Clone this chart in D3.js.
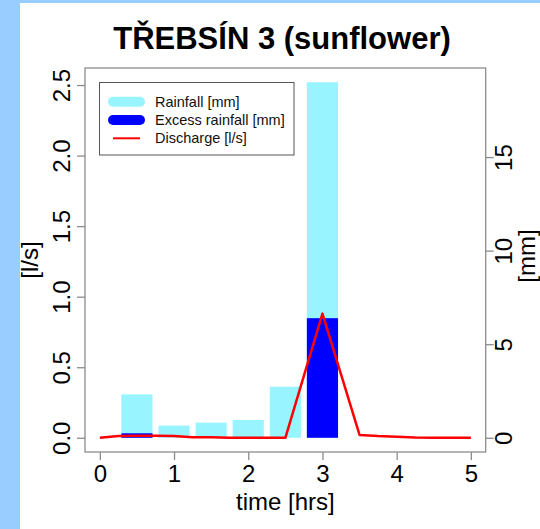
<!DOCTYPE html>
<html>
<head>
<meta charset="utf-8">
<title>TŘEBSÍN 3 (sunflower)</title>
<script src="https://d3js.org/d3.v7.min.js" charset="utf-8"></script>
<style>
  body { margin: 0; background: #99ccff; }
  svg text { font-family: "Liberation Sans", Arial, sans-serif; }
</style>
</head>
<body>
<script>
// rainfall bars (mm), centred on these times (hrs)
var barTimes = [0.5, 1, 1.5, 2, 2.5, 3];
var rainfall = [2.32, 0.65, 0.81, 0.95, 2.73, 19.0];
var excess = [0.24, 0, 0, 0, 0, 6.39];

// discharge (l/s)
var qTimes = [0, 0.25, 0.5, 0.75, 1, 1.25, 1.5, 1.75, 2, 2.25, 2.5, 3, 3.5, 3.75, 4, 4.25, 4.5, 4.75, 5];
var discharge = [0, 0.012, 0.014, 0.015, 0.012, 0.004, 0.003, 0, 0, 0, 0, 0.88, 0.02, 0.012, 0.008, 0.002, 0.001, 0.001, 0.001];

var xTicks = [0, 1, 2, 3, 4, 5];
var qTicks = [0, 0.5, 1, 1.5, 2, 2.5];
var mmTicks = [0, 5, 10, 15];

var legendLabels = ["Rainfall [mm]", "Excess rainfall [mm]", "Discharge [l/s]"];

var W = 540, H = 529;
var box = {left: 85, right: 485.7, top: 68, bottom: 452};
var axisGrey = "#8c8c8c";

// R style limits: data range plus 4% each side
function ext(lo, hi) { var d = (hi - lo) * 0.04; return [lo - d, hi + d]; }

var x = d3.scaleLinear().domain(ext(0, 5)).range([box.left, box.right]);
var yQ = d3.scaleLinear().domain(ext(0, 2.52)).range([box.bottom, box.top]);
var yMM = d3.scaleLinear().domain(ext(0, 19)).range([box.bottom, box.top]);

var svg = d3.select("body").append("svg")
    .attr("width", W).attr("height", H)
    .style("display", "block");

svg.append("rect").attr("x", 20).attr("y", 3)
    .attr("width", W - 20).attr("height", H - 3).attr("fill", "white");

var barW = x(0.42) - x(0);

svg.selectAll("rect.rain").data(rainfall).enter().append("rect")
    .attr("class", "rain")
    .attr("x", function(d, i) { return x(barTimes[i]) - barW / 2; })
    .attr("y", function(d) { return yMM(d); })
    .attr("width", barW)
    .attr("height", function(d) { return yMM(0) - yMM(d); })
    .attr("fill", "#98f5ff");

svg.selectAll("rect.excess").data(excess).enter().append("rect")
    .attr("class", "excess")
    .attr("x", function(d, i) { return x(barTimes[i]) - barW / 2; })
    .attr("y", function(d) { return yMM(d); })
    .attr("width", barW)
    .attr("height", function(d) { return yMM(0) - yMM(d); })
    .attr("fill", "#0000ff");

var line = d3.line()
    .x(function(d, i) { return x(qTimes[i]); })
    .y(function(d) { return yQ(d); });

svg.append("path").datum(discharge)
    .attr("d", line)
    .attr("fill", "none")
    .attr("stroke", "#ff0000")
    .attr("stroke-width", 2.5)
    .attr("stroke-linejoin", "round");

// plot box
svg.append("rect")
    .attr("x", box.left).attr("y", box.top)
    .attr("width", box.right - box.left).attr("height", box.bottom - box.top)
    .attr("fill", "none").attr("stroke", axisGrey).attr("stroke-width", 1.3);

function styleAxis(g) {
  g.select(".domain").remove();
  g.selectAll("line").attr("stroke", axisGrey).attr("stroke-width", 1.3);
  g.selectAll("text").attr("fill", "#000").style("font-size", "24px");
}

var xAxis = svg.append("g")
    .attr("transform", "translate(0," + box.bottom + ")")
    .call(d3.axisBottom(x).tickValues(xTicks).tickSize(8).tickFormat(d3.format("d")));
styleAxis(xAxis);
xAxis.selectAll("text").attr("y", 29.6).attr("dy", null);

var leftAxis = svg.append("g")
    .attr("transform", "translate(" + box.left + ",0)")
    .call(d3.axisLeft(yQ).tickValues(qTicks).tickSize(8).tickFormat(d3.format(".1f")));
styleAxis(leftAxis);
leftAxis.selectAll("text")
    .attr("x", null).attr("dy", null)
    .attr("text-anchor", "middle")
    .attr("transform", "translate(-14.7,0) rotate(-90)");

var rightAxis = svg.append("g")
    .attr("transform", "translate(" + box.right + ",0)")
    .call(d3.axisRight(yMM).tickValues(mmTicks).tickSize(8).tickFormat(d3.format("d")));
styleAxis(rightAxis);
rightAxis.selectAll("text")
    .attr("x", null).attr("dy", null)
    .attr("text-anchor", "middle")
    .attr("transform", "translate(26.3,0) rotate(-90)");

// titles
svg.append("text")
    .attr("x", 282).attr("y", 49)
    .attr("text-anchor", "middle")
    .style("font-size", "31px").style("font-weight", "bold")
    .text("TŘEBSÍN 3 (sunflower)");

svg.append("text")
    .attr("x", (box.left + box.right) / 2).attr("y", 510)
    .attr("text-anchor", "middle")
    .style("font-size", "24px")
    .text("time [hrs]");

svg.append("text")
    .attr("transform", "translate(38.3," + (box.top + box.bottom) / 2 + ") rotate(-90)")
    .attr("text-anchor", "middle")
    .style("font-size", "24px")
    .text("[l/s]");

// right axis title sits at the edge; nudged in so it stays visible
svg.append("text")
    .attr("transform", "translate(535,256) rotate(-90)")
    .attr("text-anchor", "middle")
    .style("font-size", "24px")
    .text("[mm]");

// legend
var legend = svg.append("g");
legend.append("rect")
    .attr("x", 99.5).attr("y", 82.5).attr("width", 194.5).attr("height", 72.5)
    .attr("fill", "white").attr("stroke", "#555").attr("stroke-width", 1);

var legendStyles = [
  {color: "#98f5ff", width: 10},
  {color: "#0000ff", width: 10},
  {color: "#ff0000", width: 2}
];

var rows = legend.selectAll("g.row").data(legendLabels).enter().append("g")
    .attr("class", "row")
    .attr("transform", function(d, i) { return "translate(0," + (101.7 + i * 18.3) + ")"; });

rows.append("line")
    .attr("x1", 113).attr("x2", 140)
    .attr("stroke", function(d, i) { return legendStyles[i].color; })
    .attr("stroke-width", function(d, i) { return legendStyles[i].width; })
    .attr("stroke-linecap", function(d, i) { return i < 2 ? "round" : "butt"; });

rows.append("text")
    .attr("x", 155).attr("y", 5)
    .style("font-size", "14.5px")
    .attr("fill", "#111")
    .text(function(d) { return d; });
</script>
</body>
</html>
